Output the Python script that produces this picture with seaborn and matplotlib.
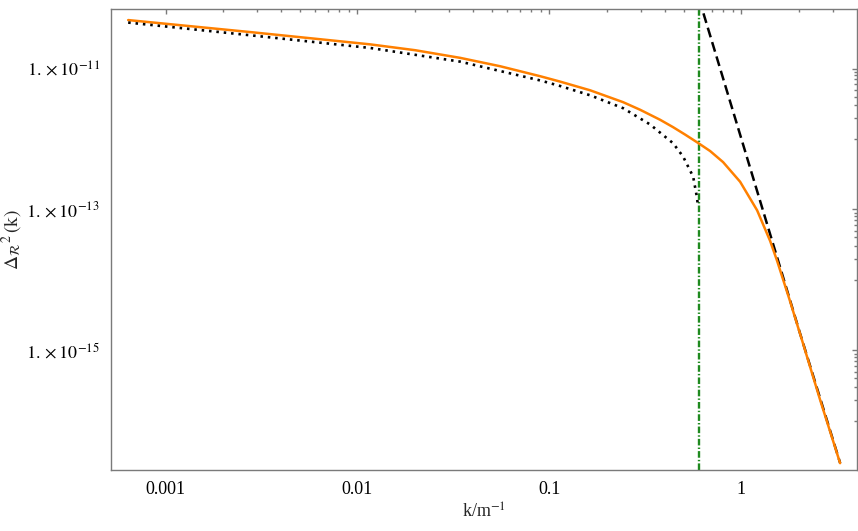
import numpy as np
import pandas as pd
import matplotlib
matplotlib.use("Agg")
import matplotlib.pyplot as plt
import seaborn as sns


# values (log-log axes)
k_full = [6.39e-4, 2.76e-3, 0.01164, 0.01998, 0.03426, 0.05535, 0.08945,
          0.1137, 0.1629, 0.2420, 0.2969, 0.3772, 0.4408, 0.5090, 0.5948,
          0.6871, 0.8028, 0.9845, 1.2071, 1.411, 1.5344, 1.793, 2.064, 2.570,
          3.267]
power_full = [4.875e-11, 3.294e-11, 2.204e-11, 1.820e-11, 1.418e-11, 1.078e-11,
              7.78e-12, 6.52e-12, 4.91e-12, 3.33e-12, 2.596e-12, 1.872e-12,
              1.470e-12, 1.154e-12, 8.78e-13, 6.74e-13, 4.69e-13, 2.47e-13,
              9.71e-14, 3.57e-14, 1.86e-14, 4.95e-15, 1.42e-15, 1.98e-16,
              2.5e-17]

k_low = [6.39e-4, 2.76e-3, 0.01164, 0.03426, 0.08945, 0.1137, 0.1629, 0.2420,
         0.3345, 0.4408, 0.4971, 0.5604, 0.5857, 0.5913]
power_low = [4.492e-11, 2.967e-11, 1.959e-11, 1.253e-11, 6.78e-12, 5.65e-12,
             4.17e-12, 2.735e-12, 1.606e-12, 8.69e-13, 5.61e-13, 2.92e-13,
             1.52e-13, 1.24e-13]

k_high = [0.60, 1.0, 2.0, 3.27]
power_high = [1.0e-10, 1.0e-12, 1.9e-15, 2.5e-17]

k_cut = 0.6

x_ticks = [0.001, 0.01, 0.1, 1]
x_tick_labels = ["0.001", "0.01", "0.1", "1"]
y_ticks = [1e-11, 1e-13, 1e-15]
y_tick_labels = [r"$1.\times10^{-11}$", r"$1.\times10^{-13}$",
                 r"$1.\times10^{-15}$"]


def main():
    sns.set_style("white")
    plt.rcParams["font.family"] = ["Liberation Serif", "DejaVu Serif"]
    plt.rcParams["mathtext.fontset"] = "stix"

    fig = plt.figure(figsize=(8.58, 5.31), dpi=100)
    ax = fig.add_axes([111 / 858, 1 - 470 / 531, 746 / 858, 461 / 531])

    full = pd.DataFrame({"k": k_full, "power": power_full})
    low = pd.DataFrame({"k": k_low, "power": power_low})
    high = pd.DataFrame({"k": k_high, "power": power_high})

    ax.axvline(k_cut, color="#1f8a1f", lw=1.7, linestyle=(0, (2.8, 0.9, 0.6, 0.9)))
    sns.lineplot(data=high, x="k", y="power", sort=False, ax=ax, color="black",
                 lw=1.8, linestyle=(0, (4.0, 2.0)))
    sns.lineplot(data=full, x="k", y="power", sort=False, ax=ax, color="#ff8000",
                 lw=1.8)
    line = sns.lineplot(data=low, x="k", y="power", sort=False, ax=ax,
                        color="black", lw=1.9).lines[-1]
    line.set_linestyle((0, (0.95, 1.85)))
    line.set_dash_capstyle("butt")

    ax.set_xscale("log")
    ax.set_yscale("log")
    ax.set_xlim(5.2e-4, 4.0)
    ax.set_ylim(2.0e-17, 7.0e-11)

    ax.set_xticks(x_ticks, x_tick_labels)
    ax.set_yticks(y_ticks, y_tick_labels)
    x_minor = [m * d for d in x_ticks for m in range(2, 10) if m * d < 4.0]
    y_minor = [m * d / 10 for d in y_ticks for m in range(1, 10)]
    ax.set_xticks(x_minor, minor=True)
    ax.set_yticks(y_minor, minor=True)
    ax.xaxis.set_minor_formatter(plt.NullFormatter())
    ax.yaxis.set_minor_formatter(plt.NullFormatter())

    frame = "#7a7a7a"
    for side in ax.spines.values():
        side.set_color(frame)
        side.set_linewidth(1.0)
    ax.tick_params(which="both", direction="in", top=True, right=True,
                   color=frame, width=1.0, labelsize=13, labelcolor="black")
    ax.tick_params(which="major", length=3.8, pad=8)
    ax.tick_params(which="minor", length=2.2)

    ax.set_xlabel(r"k/m$^{-1}$", fontsize=13, labelpad=3)
    ax.set_ylabel(r"$\Delta_{\mathcal{R}}{}^{2}\,(\mathrm{k})$", fontsize=14,
                  labelpad=1)

    fig.savefig("out.png", dpi=100)


if __name__ == "__main__":
    main()
